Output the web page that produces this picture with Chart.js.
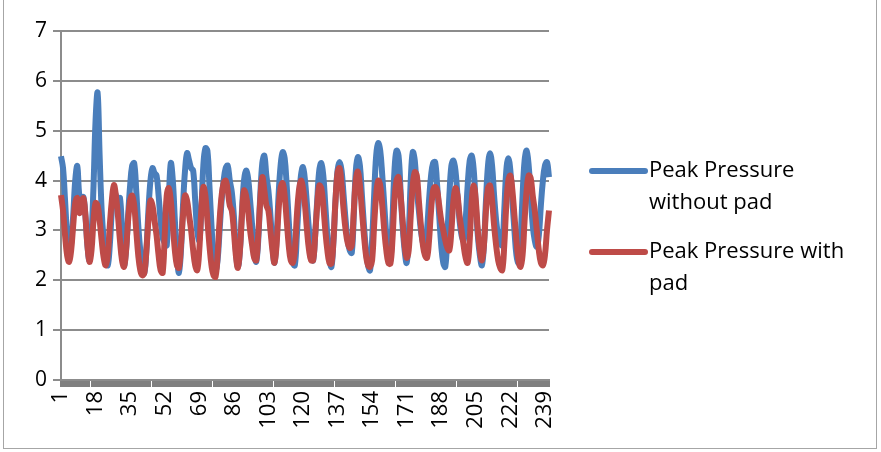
<!DOCTYPE html>
<html>
<head>
<meta charset="utf-8">
<script src="https://cdn.jsdelivr.net/npm/chart.js@4.4.1/dist/chart.umd.min.js"></script>
<style>
html,body{margin:0;padding:0;background:#fff;}
#wrap{position:relative;width:881px;height:452px;}
#frame{position:absolute;left:3px;top:-1px;width:874px;height:450px;border:1px solid #a6a6a6;box-sizing:border-box;pointer-events:none;}
canvas{display:block;}
</style>
</head>
<body>
<div id="wrap"><canvas id="c" width="881" height="452"></canvas><div id="frame"></div></div>
<script>
const seriesNames = ["Peak Pressure without pad", "Peak Pressure with pad"];
const yTicks = [0, 1, 2, 3, 4, 5, 6, 7];
const labelStep = 17;

const withoutPad = [
4.49,4.25,3.6,2.9,2.55,2.75,3.3,4.0,4.29,3.7,
3.55,3.67,3.3,2.7,2.4,2.9,3.9,5.2,5.76,4.5,
3.4,2.8,2.45,2.3,2.7,3.4,3.8,3.7,3.55,3.65,
3.0,2.3,2.6,3.3,3.9,4.3,4.35,3.8,3.1,2.6,
2.3,2.15,2.6,3.4,4.0,4.25,4.15,4.1,3.7,3.2,
2.85,2.75,2.7,3.6,4.35,4.0,3.2,2.5,2.15,2.6,
3.5,4.2,4.55,4.4,4.25,4.2,3.6,3.0,2.8,3.4,
4.3,4.65,4.6,3.9,3.1,2.5,2.2,2.4,3.0,3.6,
4.0,4.25,4.3,4.0,3.77,3.3,2.6,2.27,2.6,3.4,
4.0,4.2,4.05,3.6,3.1,2.6,2.37,2.8,3.7,4.35,
4.5,4.1,3.8,3.3,2.7,2.35,2.8,3.7,4.3,4.57,
4.45,3.9,3.2,2.6,2.35,2.3,2.9,3.6,4.1,4.27,
4.0,3.5,3.0,2.6,2.4,2.9,3.6,4.2,4.35,4.1,
3.5,2.9,2.45,2.27,2.8,3.6,4.2,4.37,4.2,3.7,
3.2,2.8,2.6,2.55,3.3,4.2,4.47,4.3,3.7,3.1,
2.6,2.3,2.2,2.8,3.7,4.5,4.75,4.6,4.1,3.5,
2.9,2.5,2.4,3.2,4.2,4.6,4.5,3.8,3.1,2.6,
2.35,2.9,4.0,4.57,4.4,3.8,3.4,3.0,2.75,2.67,
3.0,3.6,4.1,4.35,4.37,3.9,3.3,2.7,2.35,2.27,
2.9,3.7,4.3,4.4,4.2,3.7,3.2,2.9,2.8,3.2,
3.9,4.4,4.5,4.2,3.5,2.9,2.5,2.3,2.7,3.6,
4.3,4.55,4.3,3.7,3.2,2.9,2.75,2.7,3.4,4.2,
4.45,4.2,3.6,3.0,2.5,2.35,2.8,3.7,4.4,4.6,
4.3,3.7,3.1,2.8,2.67,2.9,3.5,4.0,4.3,4.37,
4.07
];

const withPad = [
3.71,3.4,2.9,2.5,2.37,2.6,3.1,3.55,3.65,3.35,
3.45,3.65,3.3,2.7,2.37,2.6,3.2,3.55,3.5,3.2,
2.8,2.45,2.3,2.5,3.1,3.6,3.91,3.7,3.3,2.8,
2.4,2.27,2.6,3.2,3.6,3.7,3.5,3.0,2.5,2.2,
2.1,2.15,2.6,3.2,3.6,3.5,3.2,2.9,2.5,2.2,
2.15,2.9,3.7,3.85,3.6,3.1,2.6,2.3,2.25,2.7,
3.3,3.7,3.6,3.3,3.0,2.6,2.3,2.2,2.6,3.4,
3.87,3.7,3.2,2.7,2.3,2.1,2.07,2.5,3.2,3.7,
3.95,4.0,3.8,3.5,3.4,3.0,2.5,2.25,2.6,3.3,
3.8,3.7,3.4,3.0,2.7,2.45,2.4,2.9,3.6,4.07,
3.8,3.5,3.4,3.0,2.6,2.35,2.7,3.4,3.85,3.95,
3.7,3.2,2.7,2.4,2.35,2.6,3.3,3.8,4.0,3.85,
3.5,3.0,2.6,2.4,2.4,2.9,3.5,3.9,3.85,3.5,
3.0,2.6,2.35,2.33,2.8,3.6,4.15,4.25,3.9,3.4,
3.0,2.75,2.65,2.7,3.4,4.0,4.18,3.9,3.4,2.9,
2.5,2.3,2.27,2.4,3.1,3.7,4.0,3.9,3.5,3.0,
2.6,2.35,2.33,2.8,3.6,4.0,4.07,3.7,3.2,2.7,
2.45,2.6,3.3,3.9,4.17,4.1,3.6,3.1,2.7,2.5,
2.45,2.8,3.4,3.8,3.87,3.8,3.5,3.2,3.0,2.8,
2.65,2.6,3.0,3.6,3.85,3.7,3.3,3.0,2.7,2.45,
2.35,2.8,3.6,3.9,3.6,3.0,2.6,2.4,2.7,3.4,
3.85,3.9,3.6,3.1,2.7,2.4,2.25,2.2,2.7,3.5,
4.0,4.1,3.8,3.3,2.8,2.4,2.27,2.5,3.2,3.8,
4.1,4.05,3.7,3.4,3.0,2.6,2.35,2.3,2.5,3.0,
3.4
];

const categories = withoutPad.map((_, i) => String(i + 1));

const FONT = "'Open Sans', sans-serif";

const legendPlugin = {
  id: 'sideLegend',
  afterDraw(chart) {
    const ctx = chart.ctx;
    ctx.save();
    ctx.font = "22px " + FONT;
    ctx.fillStyle = '#000';
    ctx.textBaseline = 'middle';
    const startYs = [171, 252];
    chart.data.datasets.forEach((ds, k) => {
      const y = startYs[k];
      ctx.strokeStyle = ds.borderColor;
      ctx.lineWidth = 6;
      ctx.lineCap = 'round';
      ctx.beginPath();
      ctx.moveTo(592, y);
      ctx.lineTo(645, y);
      ctx.stroke();
      const words = ds.label.split(' ');
      const lines = [];
      let cur = '';
      words.forEach(w => {
        const t = cur ? cur + ' ' + w : w;
        if (ctx.measureText(t).width > 212 && cur) { lines.push(cur); cur = w; }
        else cur = t;
      });
      if (cur) lines.push(cur);
      lines.forEach((ln, j) => ctx.fillText(ln, 649, y + j * 32));
    });
    ctx.restore();
  }
};

new Chart(document.getElementById('c'), {
  type: 'line',
  data: {
    labels: categories,
    datasets: [
      { label: seriesNames[0], data: withoutPad, borderColor: '#4a7ebb', borderWidth: 6, pointRadius: 0, tension: 0.4, fill: false, order: 1 },
      { label: seriesNames[1], data: withPad, borderColor: '#be4b48', borderWidth: 6, pointRadius: 0, tension: 0.4, fill: false, order: 0 }
    ]
  },
  options: {
    responsive: false,
    animation: false,
    layout: { padding: { left: 0, right: 332, top: 31, bottom: 0 } },
    plugins: { legend: { display: false }, tooltip: { enabled: false } },
    scales: {
      x: {
        type: 'category',
        offset: false,
        border: { display: true, color: '#8c8c8c', width: 2 },
        grid: { display: true, drawOnChartArea: false, drawTicks: true, tickLength: 7, color: '#7f7f7f', lineWidth: 2 },
        ticks: {
          autoSkip: false, maxRotation: 90, minRotation: 90, padding: 4,
          color: '#000', font: { family: FONT, size: 22 },
          callback: function (v, i) { return (i % labelStep === 0) ? categories[i] : ''; }
        },
        afterFit(scale) { scale.height = 72; }
      },
      y: {
        min: 0, max: 7,
        border: { display: true, color: '#8c8c8c', width: 2 },
        grid: { color: '#8c8c8c', lineWidth: 2, tickLength: 8 },
        ticks: { stepSize: 1, padding: 6, color: '#000', font: { family: FONT, size: 21 },
          callback: (v) => yTicks.includes(v) ? String(v) : '' },
        afterFit(scale) { scale.width = 61; }
      }
    }
  },
  plugins: [legendPlugin]
});
</script>
</body>
</html>
